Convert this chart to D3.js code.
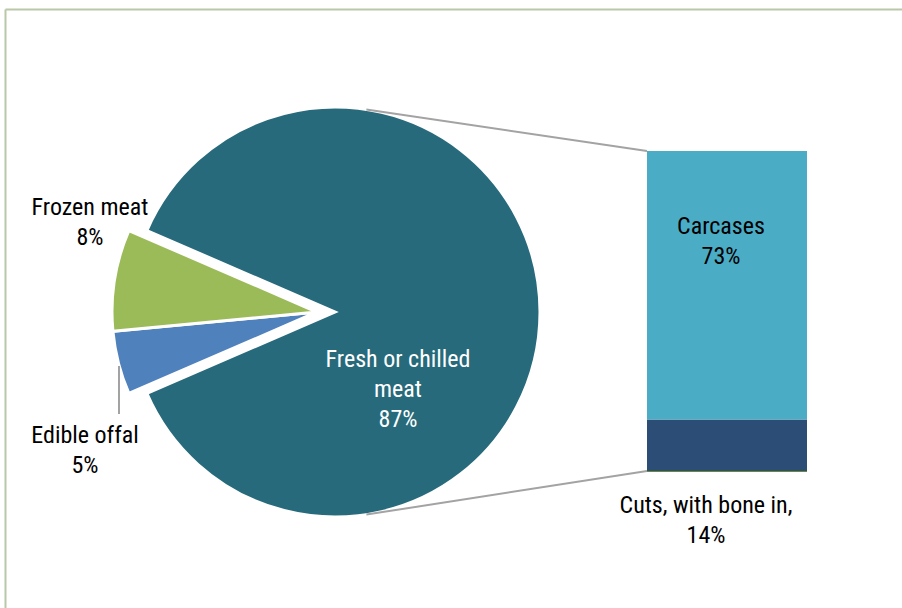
<!DOCTYPE html>
<html>
<head>
<meta charset="utf-8">
<script src="https://cdn.jsdelivr.net/npm/d3@7"></script>
<style>
  html, body { margin: 0; padding: 0; background: #fff; }
  svg { display: block; }
  text { font-family: "Liberation Sans Narrow", "Arial Narrow", "Roboto Condensed", sans-serif; font-size: 24px; }
</style>
</head>
<body>
<svg id="chart" width="902" height="608"></svg>
<script>
// Pie: share of meat exports by product type
const pieCategories = ["Fresh or chilled meat", "Edible offal", "Frozen meat"];
const pieValues = [87, 5, 8];
const pieColors = ["#276a7b", "#4f81bd", "#9bbb59"];

// Bar: breakdown of fresh or chilled meat
const barCategories = ["Cuts, with bone in,", "Carcases"];
const barValues = [14, 73];
const barColors = ["#2c4e76", "#4bacc6"];

const svg = d3.select("#chart");
const W = 902, H = 608;

// Frame (top and left rules)
svg.append("line").attr("x1", 5.5).attr("x2", W).attr("y1", 9.5).attr("y2", 9.5)
  .attr("stroke", "#b9c8a6").attr("stroke-width", 2);
svg.append("line").attr("x1", 5.5).attr("x2", 5.5).attr("y1", 9.5).attr("y2", H)
  .attr("stroke", "#b9c8a6").attr("stroke-width", 2);

// ---- Pie ----
const cx = 335, cy = 312, r = 205;
const explode = 18;
const deg = Math.PI / 180;
const gap = (pieValues[1] + pieValues[2]) / 100 * 360;   // angular span of the small slices
const start = 270 * deg + gap / 2 * deg;                    // main slice begins above the left side

const pie = d3.pie().sort(null).value(d => d)
  .startAngle(start).endAngle(start + 2 * Math.PI);
const arcs = pie(pieValues);
const arc = d3.arc().innerRadius(0).outerRadius(r);

const pieG = svg.append("g");
arcs.forEach((a, i) => {
  const dx = i === 0 ? 0 : -explode;
  pieG.append("path")
    .attr("transform", `translate(${cx + dx},${cy})`)
    .attr("d", arc(a))
    .attr("fill", pieColors[i])
    .attr("stroke", "#fff")
    .attr("stroke-width", 3)
    .attr("stroke-linejoin", "miter");
});

// ---- Stacked bar ----
const barX = 647, barW = 160;
const total = d3.sum(barValues);
const y = d3.scaleLinear().domain([0, total]).range([471, 151]);

let acc = 0;
const segs = barValues.map((v, i) => {
  const s = { v, i, y0: acc, y1: acc + v };
  acc += v;
  return s;
});
svg.append("g").selectAll("rect").data(segs).join("rect")
  .attr("x", barX).attr("width", barW)
  .attr("y", d => y(d.y1)).attr("height", d => y(d.y0) - y(d.y1))
  .attr("fill", d => barColors[d.i]);
// thin base rule under the bar
svg.append("line").attr("x1", barX).attr("x2", barX + barW)
  .attr("y1", y(0) + 0.5).attr("y2", y(0) + 0.5)
  .attr("stroke", "#6f8a2e").attr("stroke-width", 1);

// ---- Connector lines from the pie to the bar ----
const connAngle = 8.8 * deg;
const topPt = [cx + r * Math.sin(connAngle), cy - r * Math.cos(connAngle)];
const botPt = [cx + r * Math.sin(Math.PI - connAngle), cy - r * Math.cos(Math.PI - connAngle)];
svg.append("line").attr("x1", topPt[0]).attr("y1", topPt[1]).attr("x2", barX).attr("y2", y(total))
  .attr("stroke", "#a3a3a3").attr("stroke-width", 2);
svg.append("line").attr("x1", botPt[0]).attr("y1", botPt[1]).attr("x2", barX).attr("y2", y(0))
  .attr("stroke", "#a3a3a3").attr("stroke-width", 2);

// Leader line for the edible offal label
svg.append("line").attr("x1", 119).attr("x2", 119).attr("y1", 366).attr("y2", 414)
  .attr("stroke", "#a3a3a3").attr("stroke-width", 2);

// ---- Labels ----
function label(lines, x, yTop, color) {
  const t = svg.append("text").attr("text-anchor", "middle").attr("fill", color);
  lines.forEach((l, k) => {
    t.append("tspan").attr("x", x).attr("y", yTop + k * 30).text(l);
  });
}
label(["Fresh or chilled", "meat", pieValues[0] + "%"], 398, 367, "#ffffff");
label(["Frozen meat", pieValues[2] + "%"], 90, 215, "#000000");
label(["Edible offal", pieValues[1] + "%"], 85, 443, "#000000");
label([barCategories[1], barValues[1] + "%"], 721, 234, "#000000");
label([barCategories[0], barValues[0] + "%"], 706, 513, "#000000");
</script>
</body>
</html>
